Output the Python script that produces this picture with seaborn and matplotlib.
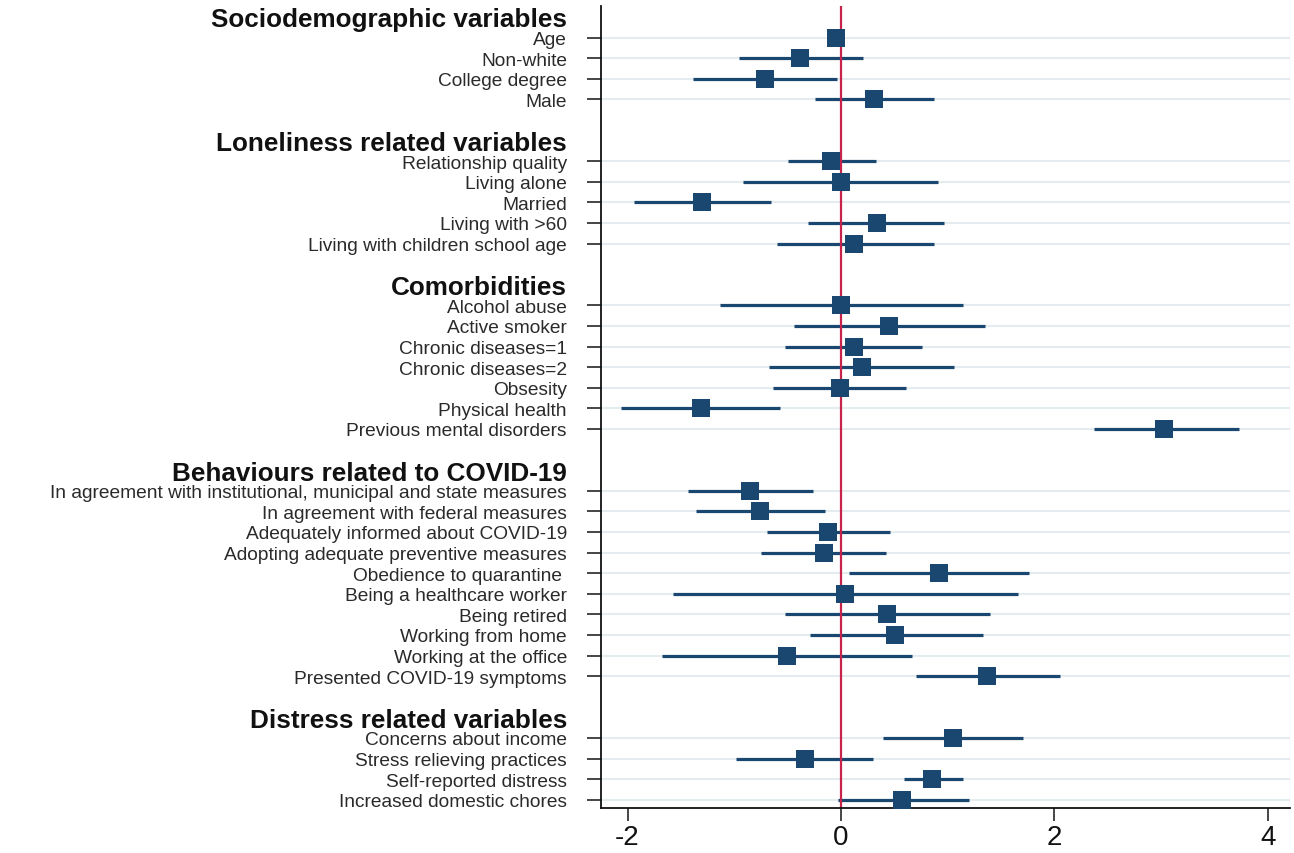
import matplotlib
matplotlib.use("Agg")
import matplotlib.pyplot as plt
import seaborn as sns
import pandas as pd

# ---------------- data ----------------
headers = ["Sociodemographic variables", "Loneliness related variables", "Comorbidities",
           "Behaviours related to COVID-19", "Distress related variables"]

socio_labels = ["Age", "Non-white", "College degree", "Male"]
socio_est = [-0.05, -0.38, -0.71, 0.31]
socio_lo = [-0.08, -0.96, -1.39, -0.24]
socio_hi = [-0.02, 0.21, -0.04, 0.87]

lonely_labels = ["Relationship quality", "Living alone", "Married", "Living with >60",
                 "Living with children school age"]
lonely_est = [-0.09, 0.00, -1.30, 0.34, 0.12]
lonely_lo = [-0.50, -0.92, -1.94, -0.31, -0.60]
lonely_hi = [0.33, 0.91, -0.66, 0.97, 0.87]

comorb_labels = ["Alcohol abuse", "Active smoker", "Chronic diseases=1", "Chronic diseases=2",
                 "Obsesity", "Physical health", "Previous mental disorders"]
comorb_est = [0.00, 0.45, 0.12, 0.20, -0.01, -1.31, 3.03]
comorb_lo = [-1.13, -0.44, -0.52, -0.67, -0.64, -2.06, 2.37]
comorb_hi = [1.14, 1.35, 0.76, 1.06, 0.61, -0.57, 3.73]

behav_labels = ["In agreement with institutional, municipal and state measures",
                "In agreement with federal measures", "Adequately informed about COVID-19",
                "Adopting adequate preventive measures", "Obedience to quarantine ",
                "Being a healthcare worker", "Being retired", "Working from home",
                "Working at the office", "Presented COVID-19 symptoms"]
behav_est = [-0.85, -0.76, -0.12, -0.16, 0.92, 0.04, 0.43, 0.51, -0.51, 1.37]
behav_lo = [-1.43, -1.36, -0.69, -0.75, 0.08, -1.57, -0.52, -0.29, -1.68, 0.70]
behav_hi = [-0.26, -0.15, 0.46, 0.42, 1.76, 1.66, 1.40, 1.33, 0.67, 2.05]

distress_labels = ["Concerns about income", "Stress relieving practices",
                   "Self-reported distress", "Increased domestic chores"]
distress_est = [1.05, -0.34, 0.85, 0.57]
distress_lo = [0.39, -0.98, 0.59, -0.03]
distress_hi = [1.71, 0.30, 1.14, 1.20]

x_ticks = [-2, 0, 2, 4]

groups = [
    (socio_labels, socio_est, socio_lo, socio_hi),
    (lonely_labels, lonely_est, lonely_lo, lonely_hi),
    (comorb_labels, comorb_est, comorb_lo, comorb_hi),
    (behav_labels, behav_est, behav_lo, behav_hi),
    (distress_labels, distress_est, distress_lo, distress_hi),
]

# ---------------- layout of rows ----------------
rows = []
header_pos = []
pos = 0
for h, (labs, est, lo, hi) in zip(headers, groups):
    header_pos.append(pos)
    pos += 1
    for l, e, a, b in zip(labs, est, lo, hi):
        rows.append(dict(label=l, est=e, lo=a, hi=b, pos=pos))
        pos += 1
    pos += 1  # blank row
df = pd.DataFrame(rows)

# ---------------- style ----------------
sns.set_style("white")
plt.rcParams["font.family"] = ["Liberation Sans", "DejaVu Sans"]

navy = "#1a476f"
grid_col = "#e4ecef"
red = "#c8234a"

fig = plt.figure(figsize=(12.94, 8.54), dpi=100)
ax = fig.add_axes([0.4642, 0.0527, 0.997 - 0.4642, 0.9918 - 0.0527])

# grid lines at each data row
for p in df["pos"]:
    ax.axhline(p, color=grid_col, lw=1.5, zorder=0)

# confidence intervals
ax.hlines(df["pos"], df["lo"], df["hi"], color=navy, lw=2.3, zorder=2)

# reference line
ax.axvline(0, color=red, lw=1.6, zorder=2.5)

# point estimates
sns.scatterplot(data=df, x="est", y="pos", marker="s", s=175, color=navy,
                edgecolor=navy, linewidth=0, zorder=3, ax=ax, legend=False)

ax.set_xlim(-2.252, 4.21)
ax.set_ylim(38.4, -0.53)

ax.set_yticks(df["pos"])
ax.set_yticklabels(df["label"], fontsize=13.8, color="#2a2a2a")
ax.set_yticks(header_pos, minor=True)
ax.set_yticklabels(headers, minor=True, fontsize=18.8, fontweight="bold", color="#111111")
ax.tick_params(axis="y", which="major", length=10, width=1.2, pad=14.3, left=True)
ax.tick_params(axis="y", which="minor", length=0, pad=24.3, left=True)

ax.set_xticks(x_ticks)
ax.set_xticklabels([str(t) for t in x_ticks], fontsize=20, color="#111111")
ax.tick_params(axis="x", length=9.5, width=1.2, pad=2, bottom=True)

ax.set_xlabel("")
ax.set_ylabel("")

for s in ["top", "right"]:
    ax.spines[s].set_visible(False)
for s in ["left", "bottom"]:
    ax.spines[s].set_color("#111111")
    ax.spines[s].set_linewidth(1.3)

fig.savefig("out.png", dpi=100)
